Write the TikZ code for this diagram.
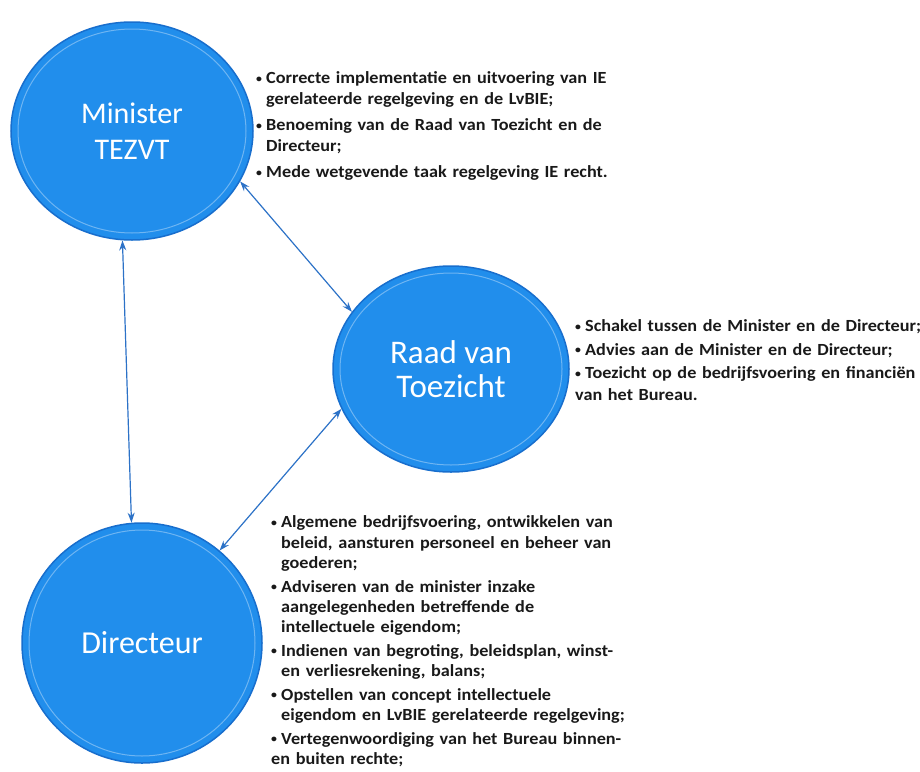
\documentclass[tikz,border=0pt]{standalone}
\usepackage{fontspec}
\setmainfont{Carlito}
\newfontfamily\takenfont[FakeStretch=1.07]{Carlito}
\usetikzlibrary{arrows.meta,shapes.geometric}
\definecolor{bolblauw}{RGB}{33,142,236}
\definecolor{randblauw}{RGB}{24,110,205}
\definecolor{pijlblauw}{RGB}{44,114,199}
\tikzset{
  orgaan/.style={ellipse, fill=bolblauw, draw=randblauw, line width=1.5pt, text=white,
    align=center, inner sep=0pt, font=\fontsize{30}{36}\selectfont},
  taken/.style n args={3}{anchor=north west, text width=#1, align=left, inner sep=0pt,
    font=\takenfont\bfseries\fontsize{17}{#2}\selectfont, text=black!90,
    execute at begin node={\setlength{\parskip}{#3}}},
  relatie/.style={{Stealth[length=10pt,width=7pt]}-{Stealth[length=10pt,width=7pt]},
    pijlblauw, line width=1.2pt},
  rand/.style={white, opacity=.35, line width=1pt}
}
\newcommand\punt{\par\hangindent=10pt\hangafter=1\noindent
  \makebox[10pt][l]{\raisebox{1.5pt}{\fontsize{11}{11}\selectfont\textbullet}}}
\begin{document}
\begin{tikzpicture}[x=1pt,y=-1pt]
\useasboundingbox (0,0) rectangle (920,771);
% de drie organen
\node[orgaan, minimum width=242, minimum height=218] (mini) at (132,131) {Minister\\TEZVT};
\node[orgaan, minimum width=236, minimum height=206,
  font=\fontsize{33}{34}\selectfont] (raad) at (451,369) {Raad van\\Toezicht};
\node[orgaan, minimum width=240, minimum height=240,
  font=\fontsize{32}{36}\selectfont] (dir) at (142,643) {Directeur};
\draw[rand] (mini) ellipse[x radius=114, y radius=102];
\draw[rand] (raad) ellipse[x radius=111, y radius=96];
\draw[rand] (dir) ellipse[x radius=113, y radius=113];
% taken
\node[taken={380}{20.5}{6pt}] (miniTaken) at (256,57) {\punt Correcte implementatie en uitvoering van IE\newline
  gerelateerde regelgeving en de LvBIE;
  \punt Benoeming van de Raad van Toezicht en de\newline Directeur;
  \punt Mede wetgevende taak regelgeving IE recht.};
\node[taken={370}{22}{1.5pt}] (raadTaken) at (575,308) {\punt Schakel tussen de Minister en de Directeur;
  \punt Advies aan de Minister en de Directeur;
  \punt Toezicht op de bedrijfsvoering en financiën\newline van het Bureau.};
\node[taken={400}{20.3}{3.3pt}] (dirTaken) at (271,504) {\punt Algemene bedrijfsvoering, ontwikkelen van\newline
  beleid, aansturen personeel en beheer van\newline goederen;
  \punt Adviseren van de minister inzake\newline aangelegenheden betreffende de\newline
  intellectuele eigendom;
  \punt Indienen van begroting, beleidsplan, winst-\newline en verliesrekening, balans;
  \punt Opstellen van concept intellectuele\newline eigendom en LvBIE gerelateerde regelgeving;
  \punt Vertegenwoordiging van het Bureau binnen-\newline en buiten rechte;};
% relaties
\draw[relatie] (mini.-25) -- (raad.150);
\draw[relatie] (mini.-95) -- (dir.95);
\draw[relatie] (raad.-160) -- (dir.50);
\end{tikzpicture}
\end{document}
